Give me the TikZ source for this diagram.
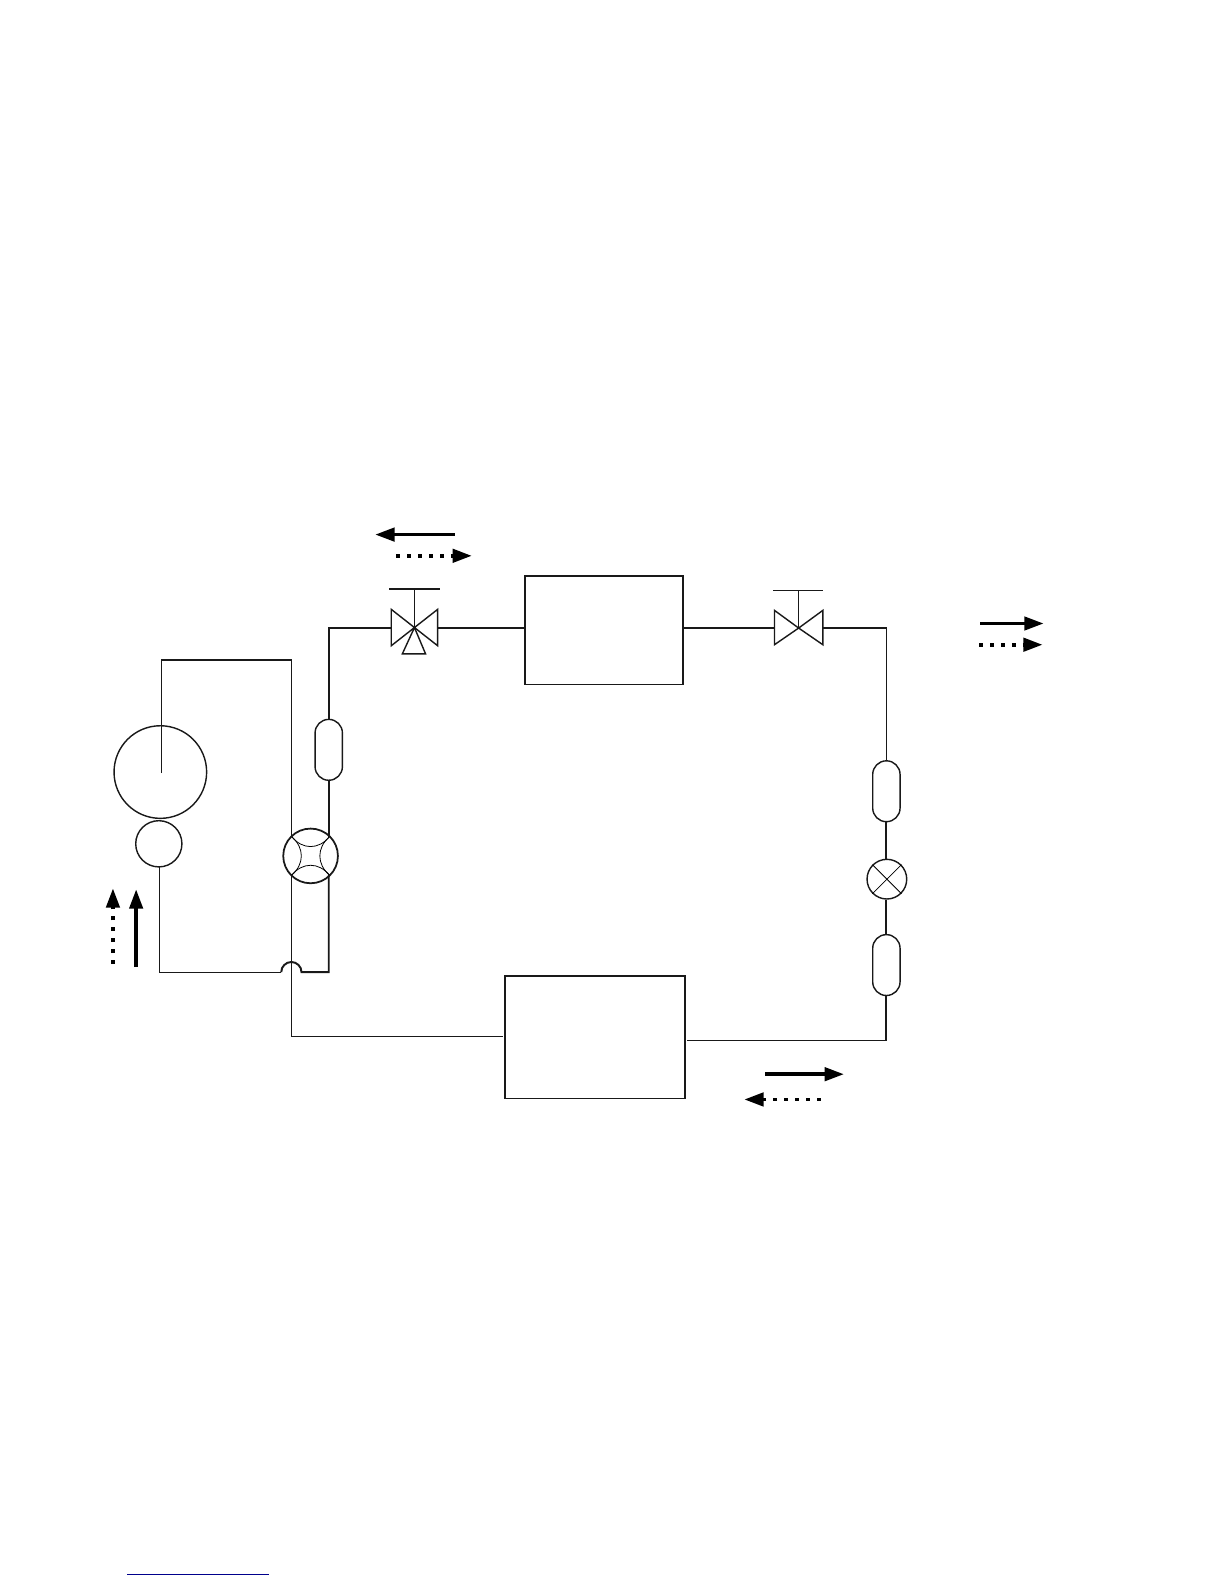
\documentclass[tikz,border=0pt]{standalone}
\usetikzlibrary{arrows.meta}
\definecolor{linkblue}{RGB}{0,0,140}
\tikzset{
  pipe/.style={draw=black!90,line width=1.1pt,line join=miter},
  thinpipe/.style={draw=black!90,line width=0.7pt,line join=miter},
  unitbox/.style={draw=black!90,line width=0.9pt,rectangle,inner sep=0pt},
  capsule/.style={draw=black!90,line width=0.8pt,rectangle,inner sep=0pt,minimum width=15.5pt,minimum height=34.5pt,rounded corners=7.7pt},
  ring/.style={draw=black!90,line width=0.8pt,circle,inner sep=0pt},
  valveline/.style={draw=black!90,line width=0.8pt,line join=miter},
  flowsolid/.style={black,line width=2.1pt,-{Triangle[length=11pt,width=7.5pt]}},
  flowdash/.style={black,line width=2.2pt,dash pattern=on 2.3pt off 3.9pt,-{Triangle[length=11pt,width=7.5pt]}},
}
\begin{document}
\begin{tikzpicture}[x=0.5717pt,y=-0.5729pt]
\useasboundingbox (0,0) rectangle (1213.7,1567.5);
% units
\node[unitbox,minimum width=89.7pt,minimum height=61.6pt] (indoor) at (599,623.5) {};
\node[unitbox,minimum width=101.8pt,minimum height=69.4pt] (outdoor) at (590,1026.5) {};
\node[capsule] (capA) at (326,742) {};
\node[capsule] (capB) at (879,783) {};
\node[capsule] (capC) at (879,955) {};
\node[ring,minimum size=22.5pt] (expv) at (879.5,870) {};
\node[ring,line width=1pt,minimum size=31pt] (fourway) at (308,847) {};
\node[ring,minimum size=52.5pt] (comp) at (159,764) {};
\node[ring,minimum size=26.2pt] (accu) at (157.5,835) {};
% four-way valve corners
\coordinate (fwNW) at (289.3,828);
\coordinate (fwNE) at (326.7,828);
\coordinate (fwSW) at (289.3,866);
\coordinate (fwSE) at (326.7,866);
\draw[line width=0.45pt] (fwNW) .. controls (300,841) and (316,841) .. (fwNE);
\draw[line width=0.45pt] (fwSW) .. controls (300,853) and (316,853) .. (fwSE);
\draw[line width=0.45pt] (fwNW) .. controls (302,839) and (302,855) .. (fwSW);
\draw[line width=0.45pt] (fwNE) .. controls (314,839) and (314,855) .. (fwSE);
% expansion valve cross
\draw[line width=0.45pt] (expv.north west) -- (expv.south east);
\draw[line width=0.45pt] (expv.north east) -- (expv.south west);
% three-way valve
\coordinate (vA) at (411,621);
\coordinate (vAl1) at (388,603);
\coordinate (vAl2) at (388,639);
\coordinate (vAr1) at (434,603);
\coordinate (vAr2) at (434,639);
\coordinate (vAb1) at (399,647);
\coordinate (vAb2) at (422,647);
\coordinate (vAtop) at (411,583);
\coordinate (vAbar1) at (386,583);
\coordinate (vAbar2) at (436,583);
\coordinate (vAL) at (388,621);
\coordinate (vAR) at (434,621);
\draw[valveline] (vA) -- (vAl1) -- (vAl2) -- cycle;
\draw[valveline] (vA) -- (vAr1) -- (vAr2) -- cycle;
\draw[valveline] (vA) -- (vAb1) -- (vAb2) -- cycle;
\draw[thinpipe] (vA) -- (vAtop);
\draw[pipe] (vAbar1) -- (vAbar2);
% two-way valve
\coordinate (vB) at (792,621.5);
\coordinate (vBl1) at (768,604);
\coordinate (vBl2) at (768,638);
\coordinate (vBr1) at (816,604);
\coordinate (vBr2) at (816,638);
\coordinate (vBtop) at (792,584);
\coordinate (vBbar1) at (767,584);
\coordinate (vBbar2) at (816,584);
\coordinate (vBL) at (768,621.5);
\coordinate (vBR) at (816,621.5);
\draw[valveline] (vB) -- (vBl1) -- (vBl2) -- cycle;
\draw[valveline] (vB) -- (vBr1) -- (vBr2) -- cycle;
\draw[thinpipe] (vB) -- (vBtop);
\draw[thinpipe] (vBbar1) -- (vBbar2);
% piping
\coordinate (compTop) at (160.5,765);
\coordinate (topL) at (160.5,653);
\coordinate (topR) at (289.3,653);
\coordinate (outL) at (499,1026);
\coordinate (outLc) at (289.3,1026);
\coordinate (jumpR) at (299,962);
\coordinate (jumpL) at (279,962);
\coordinate (botR) at (326,962);
\coordinate (botL) at (158.5,962);
\coordinate (accuIn) at (158.5,857);
\coordinate (outRe) at (681,1030);
\coordinate (outRc) at (879,1030);
\draw[thinpipe] (compTop) -- (topL) -- (topR) -- (fwNW);
\draw[thinpipe] (fwSW) -- (outLc) -- (outL);
\draw[pipe] (capA.south) -- (capA.south |- fwNE);
\draw[pipe] (capA.north) |- (vAL);
\draw[pipe] (capA.south |- fwSE) -- (botR) -- (jumpR) arc[start angle=0,end angle=180,radius=5.75pt];
\draw[thinpipe] (jumpL) -- (botL) -- (accuIn);
\draw[pipe] (vAR) -- (vAR -| indoor.west);
\draw[pipe] (vBL -| indoor.east) -- (vBL);
\draw[thinpipe] (vBR) -| (capB.north);
\draw[pipe] (capB.south) -- (expv.north -| capB.south);
\draw[pipe] (expv.south -| capC.north) -- (capC.north);
\draw[pipe] (capC.south) -- (outRc);
\draw[thinpipe] (outRc) -- (outRe);
% flow arrows
\coordinate (a1s) at (451,529);  \coordinate (a1e) at (372,529);
\coordinate (a2s) at (393,550);  \coordinate (a2e) at (468,550);
\coordinate (a3s) at (972,617);  \coordinate (a3e) at (1035,617);
\coordinate (a4s) at (971,638);  \coordinate (a4e) at (1034,638);
\coordinate (a5s) at (112,954);  \coordinate (a5e) at (112,879);
\coordinate (a6s) at (135,957);  \coordinate (a6e) at (135,880);
\coordinate (a7s) at (759,1063); \coordinate (a7e) at (837,1063);
\coordinate (a8s) at (814,1088); \coordinate (a8e) at (738,1088);
\draw[flowsolid] (a1s) -- (a1e);
\draw[flowdash] (a2s) -- (a2e);
\draw[flowsolid] (a3s) -- (a3e);
\draw[flowdash] (a4s) -- (a4e);
\draw[flowdash] (a5s) -- (a5e);
\draw[flowsolid] (a6s) -- (a6e);
\draw[flowsolid] (a7s) -- (a7e);
\draw[flowdash] (a8s) -- (a8e);
% underline at page foot
\coordinate (ulA) at (126,1558);
\coordinate (ulB) at (267,1558);
\draw[linkblue,line width=0.8pt] (ulA) -- (ulB);
\end{tikzpicture}
\end{document}
